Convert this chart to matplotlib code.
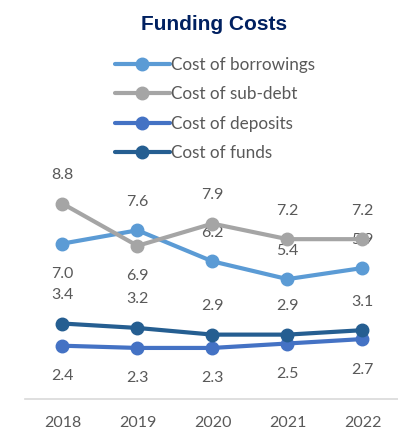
import matplotlib
matplotlib.use("Agg")
import matplotlib.pyplot as plt

# data
years = ["2018", "2019", "2020", "2021", "2022"]
borrowings = [7.0, 7.6, 6.2, 5.4, 5.9]
sub_debt = [8.8, 6.9, 7.9, 7.2, 7.2]
deposits = [2.4, 2.3, 2.3, 2.5, 2.7]
funds = [3.4, 3.2, 2.9, 2.9, 3.1]

series = [
    ("Cost of borrowings", borrowings, "#5B9BD5", ["below", "above", "above", "above", "above"]),
    ("Cost of sub-debt", sub_debt, "#A5A5A5", ["above", "below", "above", "above", "above"]),
    ("Cost of deposits", deposits, "#4472C4", ["below"] * 5),
    ("Cost of funds", funds, "#255E91", ["above"] * 5),
]

txt = "#595959"
plt.rcParams["font.family"] = ["Lato", "DejaVu Sans"]

fig = plt.figure(figsize=(3.98, 4.30), dpi=100)
ax = fig.add_axes([25 / 398, 31 / 430, 375 / 398, 222 / 430])

x = list(range(len(years)))
for name, vals, col, pos in series:
    ax.plot(x, vals, color=col, lw=3, marker="o", ms=9, label=name,
            solid_capstyle="round", zorder=3)
    for xi, v, p in zip(x, vals, pos):
        dy = 20.5 if p == "above" else -22
        ax.annotate(f"{v:.1f}", (xi, v), xytext=(0, dy), textcoords="offset points",
                    ha="center", va="center", fontsize=11.5, color=txt)

ax.set_xlim(-0.5, 4.5)
ax.set_ylim(0, 10)
ax.set_xticks(x)
ax.set_xticklabels(years, fontsize=11.5, color=txt)
ax.set_yticks([])
ax.tick_params(axis="x", length=0, pad=12)
for s in ["top", "right", "left"]:
    ax.spines[s].set_visible(False)
ax.spines["bottom"].set_color("#D9D9D9")
ax.spines["bottom"].set_linewidth(1.2)

fig.text(214 / 398, 1 - 24 / 430, "Funding Costs", ha="center", va="center",
         fontsize=15, fontweight="bold", color="#002060", family="Liberation Sans")

fig.legend(loc="upper left", bbox_to_anchor=(115 / 398, 1 - 57 / 430), frameon=False,
           fontsize=12.3, handlelength=3.2, handletextpad=0.1, labelspacing=0.78,
           borderpad=0, borderaxespad=0, labelcolor=txt)

fig.savefig("out.png", dpi=100)
